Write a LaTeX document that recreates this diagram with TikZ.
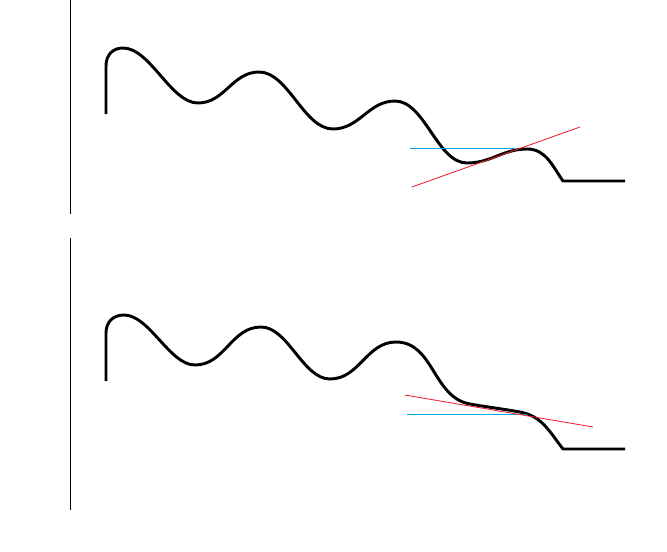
\documentclass[tikz,border=0pt]{standalone}
\usepackage{tikz}
\definecolor{Sky}{HTML}{00A8E8}
\definecolor{Tan}{HTML}{EE1C25}

\begin{document}
\begin{tikzpicture}[x=0.03cm,y=0.03cm,
    axis/.style={line width=0.8pt},
    wave/.style={line width=2.5pt,line join=round},
    level/.style={draw=Sky,line width=0.8pt},
    tangent/.style={draw=Tan,line width=0.7pt}
  ]
    \useasboundingbox (0,0) rectangle (667,-551);

    \draw[axis] (70,0) -- (70,-214);
    \draw[wave] (106,-114) -- (106,-66) to[out=90,in=180,looseness=1.1] (123,-48)
      to[out=0,in=180,looseness=0.75] (198,-103)
      to[out=0,in=180] (259,-72)
      to[out=0,in=180,looseness=0.8] (333,-129)
      to[out=0,in=180] (395,-101)
      to[out=0,in=180,looseness=0.8] (467,-163)
      to[out=0,in=180] (527,-149)
      to[out=0,in=125] (563,-181) -- (625,-181);
    \draw[level] (410,-148) -- (515,-148);
    \draw[tangent] (412,-187) -- (580,-127);

    \draw[axis] (70,-238) -- (70,-510);
    \draw[wave] (106,-381) -- (106,-333) to[out=90,in=180,looseness=1.1] (124,-315)
      to[out=0,in=180,looseness=0.75] (195,-365)
      to[out=0,in=180] (261,-327)
      to[out=0,in=180,looseness=0.8] (330,-379)
      to[out=0,in=180] (396,-342)
      to[out=0,in=170] (470,-404)
      to[out=-10,in=170] (520,-412)
      to[out=-10,in=128] (563,-449) -- (625,-449);
    \draw[level] (407,-414) -- (527,-414);
    \draw[tangent] (405,-395) -- (593,-427);
  \end{tikzpicture}
\end{document}
